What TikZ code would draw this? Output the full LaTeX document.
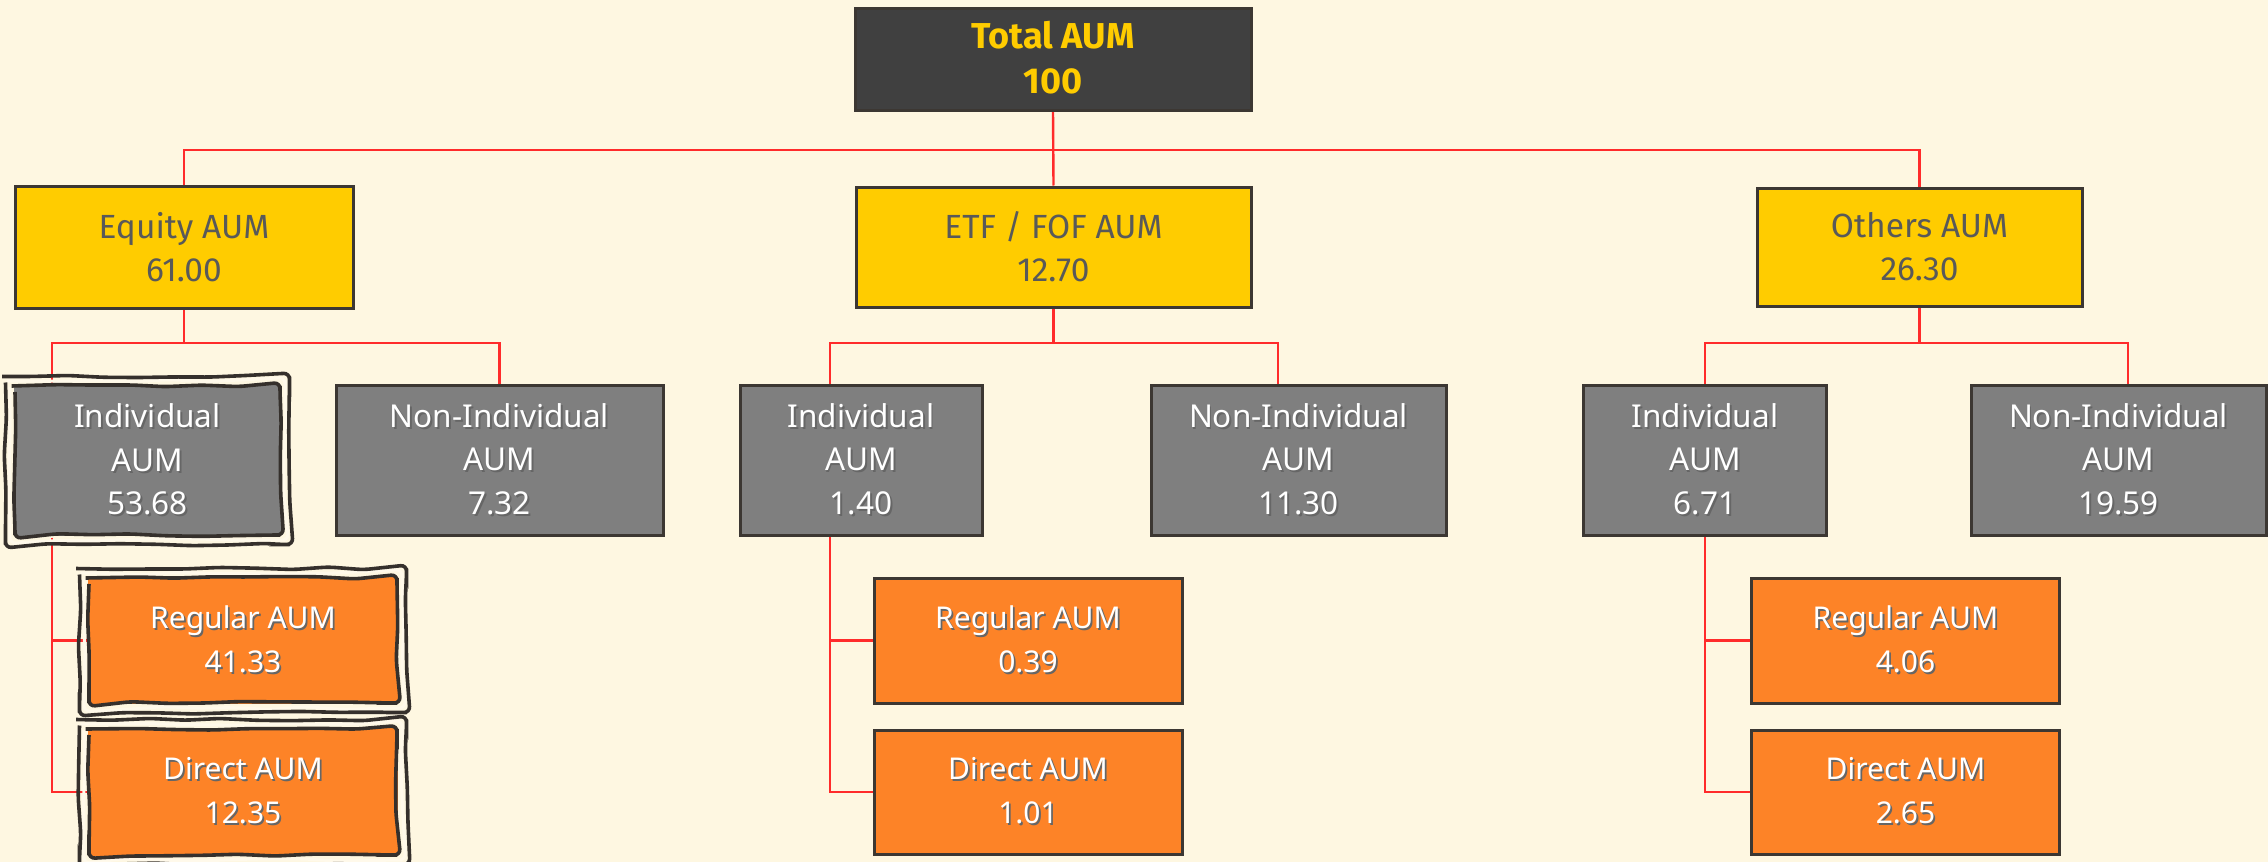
\documentclass[tikz,border=0pt]{standalone}
\usepackage{fontspec}
\setmainfont{Noto Sans}
\newfontfamily\dinfont{Fira Sans}
\usetikzlibrary{decorations.pathmorphing,calc}
\pgfdeclarelayer{paperlayer}
\pgfdeclarelayer{wires}
\pgfsetlayers{paperlayer,wires,main}

\definecolor{paper}{HTML}{FEF7E1}
\definecolor{edge}{HTML}{3C3732}
\definecolor{wirered}{HTML}{FF2B2B}
\definecolor{topfill}{HTML}{404040}
\definecolor{gold}{HTML}{FFCC00}
\definecolor{goldtext}{HTML}{595959}
\definecolor{midgray}{HTML}{7F7F7F}
\definecolor{orangefill}{HTML}{FD8327}
\definecolor{cream}{HTML}{FFF9EA}
\definecolor{inkdark}{HTML}{35302C}

% text with a small drop shadow
\newcommand\shd[2][black!60]{\leavevmode\rlap{\kern1.8pt\raisebox{-1.8pt}{\textcolor{#1}{#2}}}#2}

\tikzset{
  box/.style={draw=edge, line width=3pt, inner sep=0pt, align=center},
  topbox/.style={box, fill=topfill, text=gold, font=\dinfont\bfseries\fontsize{36}{45}\selectfont},
  catbox/.style={box, fill=gold, text=goldtext, font=\dinfont\fontsize{33.5}{43}\selectfont},
  subbox/.style={box, fill=midgray, text=white, font=\fontsize{31.5}{43.5}\selectfont},
  leafbox/.style={box, fill=orangefill, text=white, font=\fontsize{30}{44}\selectfont},
  bare/.style={draw=none},
  wire/.style={draw=wirered, line width=2.4pt},
  roughline/.style={decorate, decoration={random steps, segment length=36pt, amplitude=1.5pt}, rounded corners=6pt},
  roughdark/.style={roughline, draw=inkdark, line width=3.6pt},
  roughcream/.style={roughline, draw=cream, line width=3pt},
}

% hand-drawn double frame round a node
\newcommand\roughframe[1]{%
  \draw[roughcream] ($(#1.north west)+(-2.5,-2.5)$) rectangle ($(#1.south east)+(2.5,2.5)$);
  \draw[roughdark] ($(#1.north west)+(-7,-7)$) rectangle ($(#1.south east)+(7,7)$);
  \draw[roughdark] ($(#1.north west)+(2.5,2.5)$) rectangle ($(#1.south east)+(-2.5,-2.5)$);
}

\begin{document}
\begin{tikzpicture}[x=1pt,y=-1pt]
\pgfmathsetseed{11}
\useasboundingbox (0,0) rectangle (2268,862);
\begin{pgfonlayer}{paperlayer}
  \fill[paper] (0,0) rectangle (2268,862);
\end{pgfonlayer}

% root
\node[topbox, minimum width=396pt, minimum height=102pt] (total) at (1053,59)
  {\shd[black!75]{Total AUM}\\\shd[black!75]{100}};

% categories
\node[catbox, minimum width=338pt, minimum height=122pt] (equity) at (184,247) {Equity AUM\\61.00};
\node[catbox, minimum width=395pt, minimum height=120pt] (etf) at (1053.5,247) {ETF / FOF AUM\\12.70};
\node[catbox, minimum width=325pt, minimum height=118pt] (others) at (1919.5,247) {Others AUM\\26.30};

% investor split
\node[subbox, bare, minimum width=267pt, minimum height=151pt] (eind) at (147.5,460.5)
  {\shd{Individual}\\\shd{AUM}\\\shd{53.68}};
\node[subbox, minimum width=327pt, minimum height=150pt] (enon) at (499.5,460)
  {\shd{Non-Individual}\\\shd{AUM}\\\shd{7.32}};
\node[subbox, minimum width=242pt, minimum height=150pt] (tind) at (861,460)
  {\shd{Individual}\\\shd{AUM}\\\shd{1.40}};
\node[subbox, minimum width=295pt, minimum height=150pt] (tnon) at (1298.5,460)
  {\shd{Non-Individual}\\\shd{AUM}\\\shd{11.30}};
\node[subbox, minimum width=243pt, minimum height=150pt] (oind) at (1705,460)
  {\shd{Individual}\\\shd{AUM}\\\shd{6.71}};
\node[subbox, minimum width=295pt, minimum height=150pt] (onon) at (2118.5,460)
  {\shd{Non-Individual}\\\shd{AUM}\\\shd{19.59}};

% plan split
\node[leafbox, bare, minimum width=310pt, minimum height=127pt] (ereg) at (243,640.5) {\shd{Regular AUM}\\\shd{41.33}};
\node[leafbox, bare, minimum width=310pt, minimum height=128pt] (edir) at (243,792) {\shd{Direct AUM}\\\shd{12.35}};
\node[leafbox, minimum width=308pt, minimum height=125pt] (treg) at (1028,640.5) {\shd{Regular AUM}\\\shd{0.39}};
\node[leafbox, minimum width=308pt, minimum height=124pt] (tdir) at (1028,792) {\shd{Direct AUM}\\\shd{1.01}};
\node[leafbox, minimum width=308pt, minimum height=125pt] (oreg) at (1905.5,640.5) {\shd{Regular AUM}\\\shd{4.06}};
\node[leafbox, minimum width=308pt, minimum height=124pt] (odir) at (1905.5,792) {\shd{Direct AUM}\\\shd{2.65}};

\roughframe{eind}
\roughframe{ereg}
\roughframe{edir}

% bus lines and taps
\coordinate (bus1) at (0,150);
\coordinate (eqL) at (52,343);
\coordinate (eqR) at (499.5,343);
\coordinate (tL) at (830,343);
\coordinate (tR) at (1278,343);
\coordinate (oL) at (1705,343);
\coordinate (oR) at (2128,343);

\begin{pgfonlayer}{wires}
  \draw[wire] (total.south) -- (etf.north);
  \draw[wire] (equity.north) |- (others.north |- bus1) -- (others.north);

  \draw[wire] (equity.south) -- (equity.south |- eqL);
  \draw[wire] (eqL |- eind.north) -- (eqL) -- (eqR) -- (enon.north);
  \draw[wire] (eqL |- eind.south) |- (ereg.west);
  \draw[wire] (eqL |- eind.south) |- (edir.west);

  \draw[wire] (etf.south) -- (etf.south |- tL);
  \draw[wire] (tL |- tind.north) -- (tL) -- (tR) -- (tR |- tnon.north);
  \draw[wire] (tL |- tind.south) |- (treg.west);
  \draw[wire] (tL |- tind.south) |- (tdir.west);

  \draw[wire] (others.south) -- (others.south |- oL);
  \draw[wire] (oind.north) -- (oL) -- (oR) -- (oR |- onon.north);
  \draw[wire] (oind.south) |- (oreg.west);
  \draw[wire] (oind.south) |- (odir.west);
\end{pgfonlayer}
\end{tikzpicture}
\end{document}
